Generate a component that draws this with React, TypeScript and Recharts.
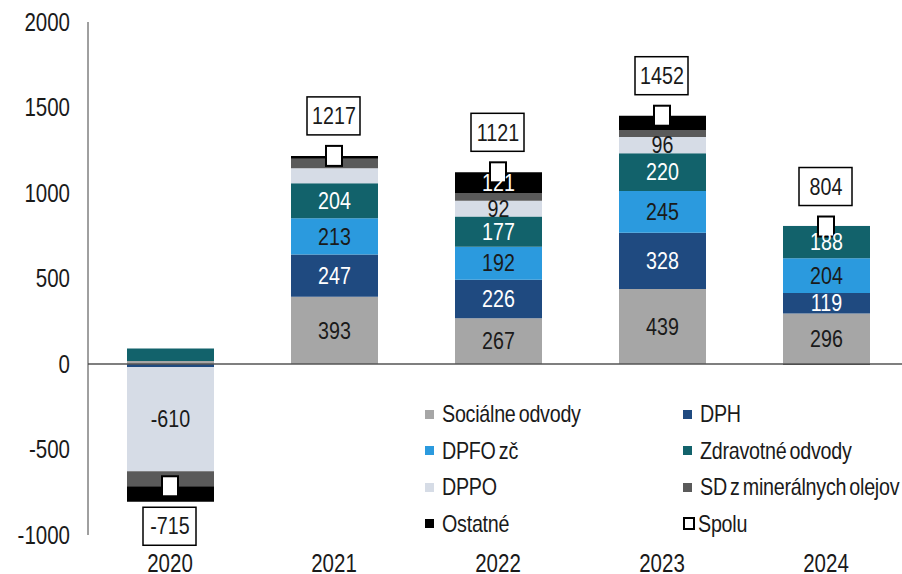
import React from "react";
import {
	Bar,
	ComposedChart,
	LabelList,
	Legend,
	Line,
	ReferenceLine,
	XAxis,
	YAxis,
} from "recharts";

const years = ["2020", "2021", "2022", "2023", "2024"];
const socialne = [18, 393, 267, 439, 296];
const dph = [-17, 247, 226, 328, 119];
const dpfo = [0, 213, 192, 245, 204];
const zdravotne = [72, 204, 177, 220, 188];
const dppo = [-610, 88, 92, 96, 2];
const sdOleje = [-88, 55, 46, 40, 0];
const ostatne = [-90, 17, 121, 84, -5];
const spolu = [-715, 1217, 1121, 1452, 804];
const yTicks = [-1000, -500, 0, 500, 1000, 1500, 2000];

// no narrow font installed, so Liberation Sans gets squeezed horizontally
const FONT = "'Liberation Sans', Arial, sans-serif";
const SQUEEZE = 0.82;

const series = [
	{ key: "socialne", name: "Sociálne odvody", fill: "#a6a6a6", text: "#1a1a1a" },
	{ key: "dph", name: "DPH", fill: "#1f4a80", text: "#ffffff" },
	{ key: "dpfo", name: "DPFO zč", fill: "#2b9ade", text: "#1a1a1a" },
	{ key: "zdravotne", name: "Zdravotné odvody", fill: "#12626b", text: "#ffffff" },
	{ key: "dppo", name: "DPPO", fill: "#d6dce6", text: "#1a1a1a" },
	{ key: "sd", name: "SD z minerálnych olejov", fill: "#5a5a5a", text: "#ffffff" },
	{ key: "ostatne", name: "Ostatné", fill: "#000000", text: "#ffffff" },
];

const data = years.map((year, i) => ({
	year,
	socialne: socialne[i],
	dph: dph[i],
	dpfo: dpfo[i],
	zdravotne: zdravotne[i],
	dppo: dppo[i],
	sd: sdOleje[i],
	ostatne: ostatne[i],
	spolu: spolu[i],
}));

const NarrowText = ({ x, y, anchor = "middle", size = 24, fill = "#1a1a1a", dy, children }: any) => (
	<g transform={`translate(${x},${y})`}>
		<text
			transform={`scale(${SQUEEZE},1)`}
			x={0}
			y={0}
			dy={dy}
			fill={fill}
			fontSize={size}
			fontFamily={FONT}
			textAnchor={anchor}
			dominantBaseline={dy ? undefined : "central"}
		>
			{children}
		</text>
	</g>
);

const XTick = (props: any) => {
	const { x, y, payload } = props;
	return <NarrowText x={x} y={y - 1} size={25} dy="0.71em">{payload.value}</NarrowText>;
};

const YTick = (props: any) => {
	const { x, y, payload } = props;
	return <NarrowText x={x} y={y} size={25} anchor="end">{payload.value}</NarrowText>;
};

// only segments big enough get a number inside
const segmentLabel = (color: string) => (props: any) => {
	const { x, y, width, height, value } = props;
	if (value == null || Math.abs(value) < 91) return null;
	return (
		<NarrowText x={x + width / 2} y={y + height / 2} fill={color}>
			{value}
		</NarrowText>
	);
};

const SpoluMarker = (props: any) => {
	const { cx, cy } = props;
	if (cx == null || cy == null) return null;
	return (
		<rect
			key={`m-${cx}`}
			x={cx - 8}
			y={cy - 10}
			width={16}
			height={20}
			fill="#ffffff"
			stroke="#000000"
			strokeWidth={2}
		/>
	);
};

const SpoluLabel = (props: any) => {
	const { x, y, value } = props;
	const cy = value < 0 ? y + 40 : y - 40;
	return (
		<g>
			<rect
				x={x - 27}
				y={cy - 19}
				width={53}
				height={38}
				fill="#ffffff"
				stroke="#000000"
				strokeWidth={1.5}
			/>
			<NarrowText x={x} y={cy}>{value}</NarrowText>
		</g>
	);
};

const legendItems = [...series, { key: "spolu", name: "Spolu", fill: "#ffffff", text: "" }];

const LegendBox = () => (
	<div
		style={{
			display: "grid",
			gridTemplateColumns: "258px 230px",
			gridAutoRows: "36.5px",
			fontFamily: FONT,
			fontSize: 24,
			color: "#1a1a1a",
		}}
	>
		{legendItems.map((s) => {
			const hollow = s.key === "spolu";
			return (
				<div key={s.key} style={{ display: "flex", alignItems: "center", whiteSpace: "nowrap" }}>
					<span
						style={{
							flexShrink: 0,
							display: "inline-block",
							width: hollow ? 8 : 9,
							height: hollow ? 9 : 9,
							background: s.fill,
							border: hollow ? "2px solid #000" : "none",
							marginRight: hollow ? 3 : 8,
							boxSizing: "content-box",
						}}
					/>
					<span
						style={{
							display: "inline-block",
							transform: `scaleX(${SQUEEZE})`,
							transformOrigin: "0 50%",
							letterSpacing: "-0.3px",
							wordSpacing: "-2.5px",
						}}
					>
						{s.name}
					</span>
				</div>
			);
		})}
	</div>
);

export default function App() {
	return (
		<div
			style={{
				position: "absolute",
				left: 0,
				top: 0,
				width: 902,
				height: 574,
				overflow: "hidden",
				background: "#ffffff",
			}}
		>
			<ComposedChart
				width={908}
				height={574}
				data={data}
				stackOffset="sign"
				barSize={87}
				margin={{ top: 22, right: 0, left: 0, bottom: 9 }}
			>
				<XAxis
					dataKey="year"
					axisLine={false}
					tickLine={false}
					height={30}
					tickMargin={14}
					tick={<XTick />}
				/>
				<YAxis
					width={88}
					domain={[-1000, 2000]}
					ticks={yTicks}
					interval={0}
					tickLine={false}
					tickMargin={12}
					axisLine={{ stroke: "#404040", strokeWidth: 1 }}
					tick={<YTick />}
				/>
				<ReferenceLine y={0} stroke="#555555" strokeWidth={1.5} />
				{series.map((s) => (
					<Bar
						key={s.key}
						dataKey={s.key}
						name={s.name}
						stackId="a"
						fill={s.fill}
						isAnimationActive={false}
					>
						<LabelList dataKey={s.key} content={segmentLabel(s.text)} />
					</Bar>
				))}
				<Line
					dataKey="spolu"
					name="Spolu"
					stroke="none"
					dot={<SpoluMarker />}
					activeDot={false}
					label={<SpoluLabel />}
					legendType="none"
					isAnimationActive={false}
				/>
				<Legend
					layout="vertical"
					align="center"
					verticalAlign="middle"
					content={<LegendBox />}
					wrapperStyle={{ left: 425, top: 396, width: 490 }}
				/>
			</ComposedChart>
		</div>
	);
}
